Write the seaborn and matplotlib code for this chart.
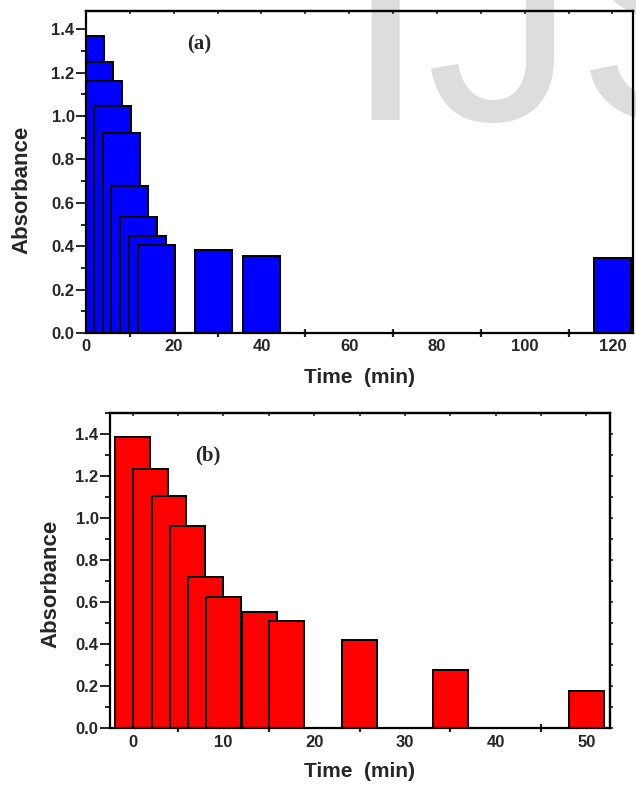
import matplotlib
matplotlib.use("Agg")
import matplotlib.pyplot as plt
from matplotlib.ticker import MultipleLocator, FormatStrFormatter
import seaborn as sns
import pandas as pd

# ---- data ----
time_a = [0, 2, 4, 6, 8, 10, 12, 14, 16, 29, 40, 120]
abs_a = [1.37, 1.25, 1.16, 1.047, 0.922, 0.677, 0.536, 0.446, 0.407, 0.382, 0.355, 0.346]

time_b = [0, 2, 4, 6, 8, 10, 14, 17, 25, 35, 50]
abs_b = [1.386, 1.235, 1.105, 0.965, 0.722, 0.625, 0.552, 0.512, 0.422, 0.279, 0.179]

xticks_a = [0, 20, 40, 60, 80, 100, 120]
xticks_b = [0, 10, 20, 30, 40, 50]
yticks = [0.0, 0.2, 0.4, 0.6, 0.8, 1.0, 1.2, 1.4]

panel_labels = ["(a)", "(b)"]
xlabel = "Time  (min)"
ylabel = "Absorbance"

sns.set_style("ticks")
plt.rcParams["font.family"] = ["Liberation Sans", "DejaVu Sans"]
plt.rcParams["font.weight"] = "bold"

W, H = 636, 785
fig = plt.figure(figsize=(W / 100, H / 100), dpi=100)

# watermark behind the plots
fig.text(343 / W, 1 - 120 / H, "IJSER", fontsize=216, color="#dddddd",
         ha="left", va="baseline", family=["Liberation Sans", "DejaVu Sans"],
         fontweight="normal", zorder=-5)


def px_axes(l, t, r, b):
    return fig.add_axes([l / W, 1 - b / H, (r - l) / W, (b - t) / H])


ax1 = px_axes(86, 11, 633, 333)
ax2 = px_axes(110, 412.7, 610, 728.3)

df_a = pd.DataFrame({"time": time_a, "absorbance": abs_a})
df_b = pd.DataFrame({"time": time_b, "absorbance": abs_b})

sns.barplot(data=df_a, x="time", y="absorbance", native_scale=True, width=4.2,
            color="#0000ff", saturation=1, edgecolor="black", linewidth=1.4,
            errorbar=None, ax=ax1)
sns.barplot(data=df_b, x="time", y="absorbance", native_scale=True, width=1.925,
            color="#ff0000", saturation=1, edgecolor="black", linewidth=1.4,
            errorbar=None, ax=ax2)

settings = [
    (ax1, (0, 124.7), (0, 1.484), xticks_a, 10, panel_labels[0], (0.207, 0.895)),
    (ax2, (-2.5, 52.6), (0, 1.503), xticks_b, 5, panel_labels[1], (0.196, 0.865)),
]

for ax, xl, yl, xt, top_step, plab, ppos in settings:
    ax.set_facecolor("none")
    ax.set_xlim(*xl)
    ax.set_ylim(*yl)
    ax.set_xticks(xt)
    ax.set_xticks([(a + b) / 2 for a, b in zip(xt[:-1], xt[1:])], minor=True)
    ax.set_yticks(yticks)
    ax.yaxis.set_minor_locator(MultipleLocator(0.1))
    ax.yaxis.set_major_formatter(FormatStrFormatter("%.1f"))
    ax.xaxis.set_major_formatter(FormatStrFormatter("%d"))
    for sp in ax.spines.values():
        sp.set_visible(True)
        sp.set_linewidth(1.6)
        sp.set_color("black")
    ax.tick_params(axis="x", which="major", length=0, pad=4.5, labelsize=12)
    ax.tick_params(axis="x", which="minor", direction="inout", length=6, width=1.6)
    ax.tick_params(axis="y", which="major", direction="out", length=7.2, width=1.4,
                   pad=1, labelsize=12)
    ax.tick_params(axis="y", which="minor", direction="out", length=3.6, width=1.4)
    for lab in ax.get_xticklabels() + ax.get_yticklabels():
        lab.set_fontweight("bold")
    ax.set_xlabel(xlabel, fontsize=15, fontweight="bold", va="center")
    ax.set_ylabel(ylabel, fontsize=16, fontweight="bold", va="center")
    ax.xaxis.set_label_coords(0.5, -0.137)
    ax.text(ppos[0], ppos[1], plab, transform=ax.transAxes, ha="center", va="center",
            fontsize=15, fontweight="bold", family=["Liberation Serif", "DejaVu Serif"])
    top = ax.secondary_xaxis("top")
    top.set_xticks(list(range(int(xt[0]), int(xl[1]) + 1, top_step)))
    top.tick_params(direction="in", length=2.5, width=1.2, labeltop=False)
    top.spines["top"].set_linewidth(1.6)

ax1.yaxis.set_label_coords(-0.118, 0.444)
ax2.yaxis.set_label_coords(-0.118, 0.457)

right = ax2.secondary_yaxis("right")
right.set_yticks([i / 10 for i in range(0, 15)])
right.tick_params(direction="out", length=2, width=1.2, labelright=False)
right.spines["right"].set_linewidth(1.6)

fig.savefig("out.png", dpi=100)
